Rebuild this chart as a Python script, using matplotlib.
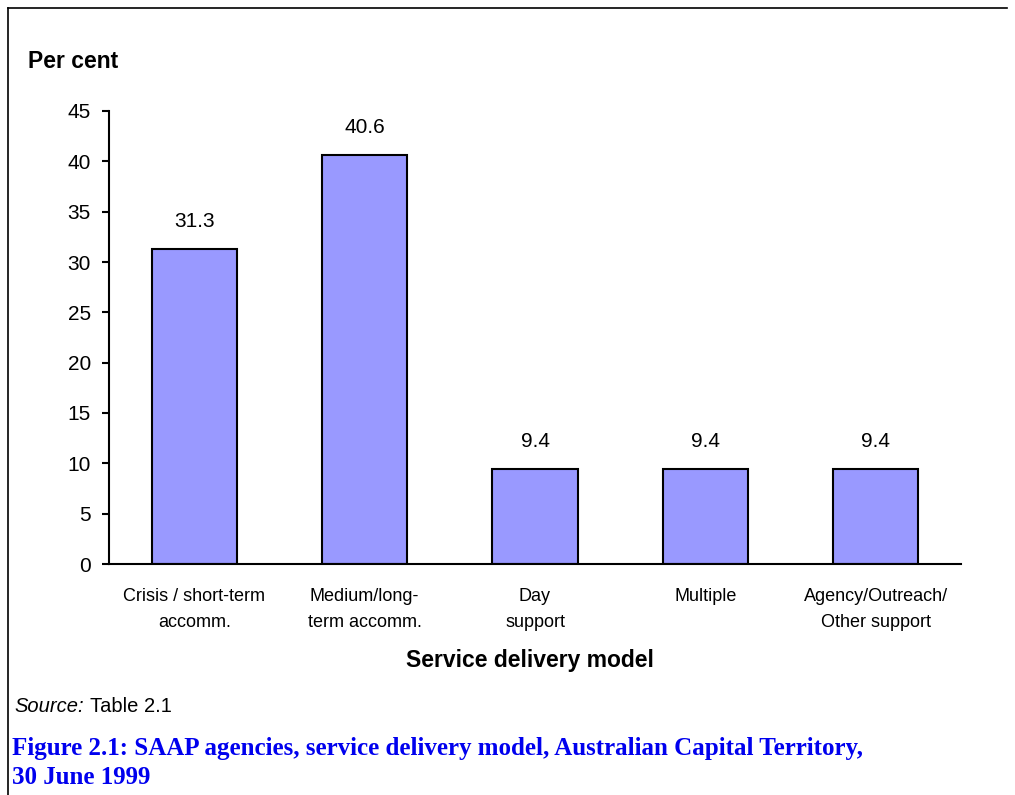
import matplotlib
matplotlib.use("Agg")
import matplotlib.pyplot as plt
from matplotlib.lines import Line2D

categories = ["Crisis / short-term\naccomm.", "Medium/long-\nterm accomm.", "Day\nsupport",
              "Multiple", "Agency/Outreach/\nOther support"]
values = [31.3, 40.6, 9.4, 9.4, 9.4]
yticks = [0, 5, 10, 15, 20, 25, 30, 35, 40, 45]

plt.rcParams['font.family'] = ['Liberation Sans', 'DejaVu Sans']

W, H = 1015, 795
fig = plt.figure(figsize=(W / 100, H / 100), dpi=100)
ax = fig.add_axes([109 / W, 1 - 564 / H, (961 - 109) / W, (564 - 111) / H])

x = list(range(len(categories)))
bars = ax.bar(x, values, width=0.5, color='#9999FF', edgecolor='black', linewidth=1.5)
for xi, v in zip(x, values):
    ax.annotate(f"{v}", (xi, v), xytext=(0, 16), textcoords='offset points',
                ha='center', va='baseline', fontsize=15)

ax.set_xlim(-0.5, len(categories) - 0.5)
ax.set_ylim(0, 45)
ax.set_yticks(yticks)
ax.set_yticklabels([str(t) for t in yticks], fontsize=15)
ax.set_xticks(x)
ax.set_xticklabels(categories, fontsize=13, linespacing=1.7)
ax.tick_params(axis='x', length=0, pad=17)
ax.tick_params(axis='y', length=5, width=1.5, pad=8)
for s in ['top', 'right']:
    ax.spines[s].set_visible(False)
for s in ['left', 'bottom']:
    ax.spines[s].set_linewidth(1.5)

fig.text(28 / W, 1 - 62 / H, "Per cent", fontsize=16.5, fontweight='bold', va='center', ha='left')
fig.text(530 / W, 1 - 661 / H, "Service delivery model", fontsize=16.5, fontweight='bold',
         va='center', ha='center')
fig.text(14 / W, 1 - 706 / H, "Source:", fontsize=14.5, style='italic', va='center', ha='left')
fig.text(90 / W, 1 - 706 / H, "Table 2.1", fontsize=14.5, va='center', ha='left')
serif = ['Liberation Serif', 'DejaVu Serif']
fig.text(12 / W, 1 - 749 / H, "Figure 2.1: SAAP agencies, service delivery model, Australian Capital Territory,",
         fontsize=18, fontweight='bold', color='#0000EE', family=serif,
         va='center', ha='left')
fig.text(12 / W, 1 - 777 / H, "30 June 1999",
         fontsize=18, fontweight='bold', color='#0000EE', family=serif,
         va='center', ha='left')

# frame lines
fig.add_artist(Line2D([7.5 / W, 7.5 / W], [1 - 7.5 / H, 0], transform=fig.transFigure, color='black', lw=1.2))
fig.add_artist(Line2D([7.5 / W, 1007 / W], [1 - 7.5 / H, 1 - 7.5 / H], transform=fig.transFigure, color='black', lw=1.2))

fig.savefig("out.png", dpi=100)
